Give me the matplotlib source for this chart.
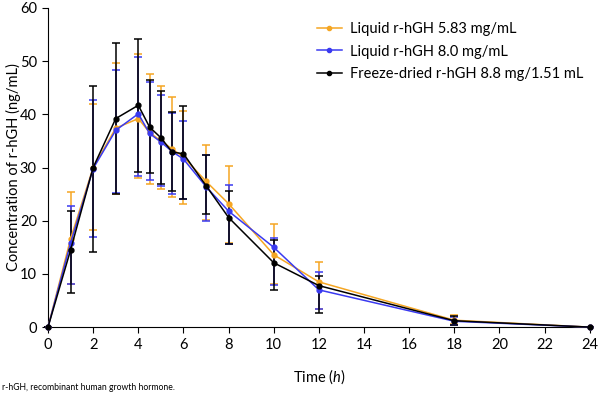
import matplotlib
matplotlib.use("Agg")
import matplotlib.pyplot as plt
from matplotlib.lines import Line2D
import numpy as np

plt.rcParams['font.family'] = ['Lato', 'DejaVu Sans']
plt.rcParams['mathtext.fontset'] = 'custom'
plt.rcParams['mathtext.it'] = 'Lato:italic'
plt.rcParams['mathtext.rm'] = 'Lato'

time = [0, 1, 2, 3, 4, 4.5, 5, 5.5, 6, 7, 8, 10, 12, 18, 24]

labels = ["Liquid r-hGH 5.83 mg/mL", "Liquid r-hGH 8.0 mg/mL", "Freeze-dried r-hGH 8.8 mg/1.51 mL"]
colors = ["#F5A623", "#3A3AF0", "#000000"]

orange_mean = [0, 16.6, 30.0, 37.4, 39.2, 36.6, 35.0, 33.5, 32.0, 27.4, 23.2, 13.6, 8.5, 1.3, 0]
orange_lo   = [0, 8.2, 18.2, 25.1, 28.0, 26.9, 25.9, 24.5, 23.1, 20.1, 15.8, 8.2, 3.5, 0.5, 0]
orange_hi   = [0, 25.4, 42.0, 49.6, 51.3, 47.6, 45.3, 43.3, 40.6, 34.3, 30.3, 19.3, 12.3, 2.2, 0]

blue_mean = [0, 15.8, 29.8, 37.0, 40.1, 36.4, 34.8, 33.0, 31.6, 26.4, 21.8, 15.0, 7.0, 1.1, 0]
blue_lo   = [0, 8.2, 17.0, 25.2, 28.5, 27.6, 26.5, 25.1, 24.0, 19.9, 15.6, 7.9, 3.4, 0.4, 0]
blue_hi   = [0, 22.8, 42.7, 48.3, 50.7, 46.0, 43.6, 40.2, 38.8, 32.4, 26.7, 16.8, 10.3, 1.9, 0]

black_mean = [0, 14.5, 30.0, 39.2, 41.7, 37.6, 35.6, 32.9, 32.6, 26.6, 20.6, 12.1, 7.8, 1.2, 0]
black_lo   = [0, 6.5, 14.2, 25.1, 29.1, 29.0, 26.9, 25.6, 24.0, 21.2, 15.6, 7.0, 2.7, 0.4, 0]
black_hi   = [0, 21.8, 45.3, 53.5, 54.1, 46.5, 44.4, 40.5, 41.5, 32.4, 25.5, 16.4, 9.6, 2.0, 0]

series = [(orange_mean, orange_lo, orange_hi),
          (blue_mean, blue_lo, blue_hi),
          (black_mean, black_lo, black_hi)]

fig = plt.figure(figsize=(6.0, 3.97), dpi=100)
ax = fig.add_axes([0.08, 0.176, 0.903, 0.804])

handles = []
for (m, lo, hi), c, lab in zip(series, colors, labels):
    m = np.array(m); lo = np.array(lo); hi = np.array(hi)
    yerr = np.vstack([m - lo, hi - m])
    ax.errorbar(time, m, yerr=yerr, color=c, ecolor=c, marker='o', markersize=3.5,
                linewidth=1.1, elinewidth=1.1, capsize=3, capthick=1.1,
                clip_on=False, zorder=3)
    handles.append(Line2D([], [], color=c, marker='o', markersize=3, linewidth=1.1, label=lab))

ax.set_xlim(0, 24)
ax.set_ylim(0, 60)
ax.set_xticks(np.arange(0, 25, 2))
ax.set_yticks(np.arange(0, 61, 10))
ax.spines['top'].set_visible(False)
ax.spines['right'].set_visible(False)
ax.tick_params(direction='out', length=4.5, labelsize=10.5)
ax.set_xlabel("Time ($\\it{h}$)", fontsize=10.5, labelpad=11)
ax.set_ylabel("Concentration of r-hGH (ng/mL)", fontsize=10.5, va='center')
ax.yaxis.set_label_coords(-0.064, 0.5)

fig.legend(handles=handles, loc='upper left', bbox_to_anchor=(0.528, 0.945), frameon=False,
           fontsize=10.5, handlelength=1.7, handletextpad=0.55, labelspacing=0.6,
           borderpad=0, borderaxespad=0)

fig.text(0.004, 0.012, "r-hGH, recombinant human growth hormone.", fontsize=6.2, ha='left', va='bottom')

fig.savefig("out.png", dpi=100)
